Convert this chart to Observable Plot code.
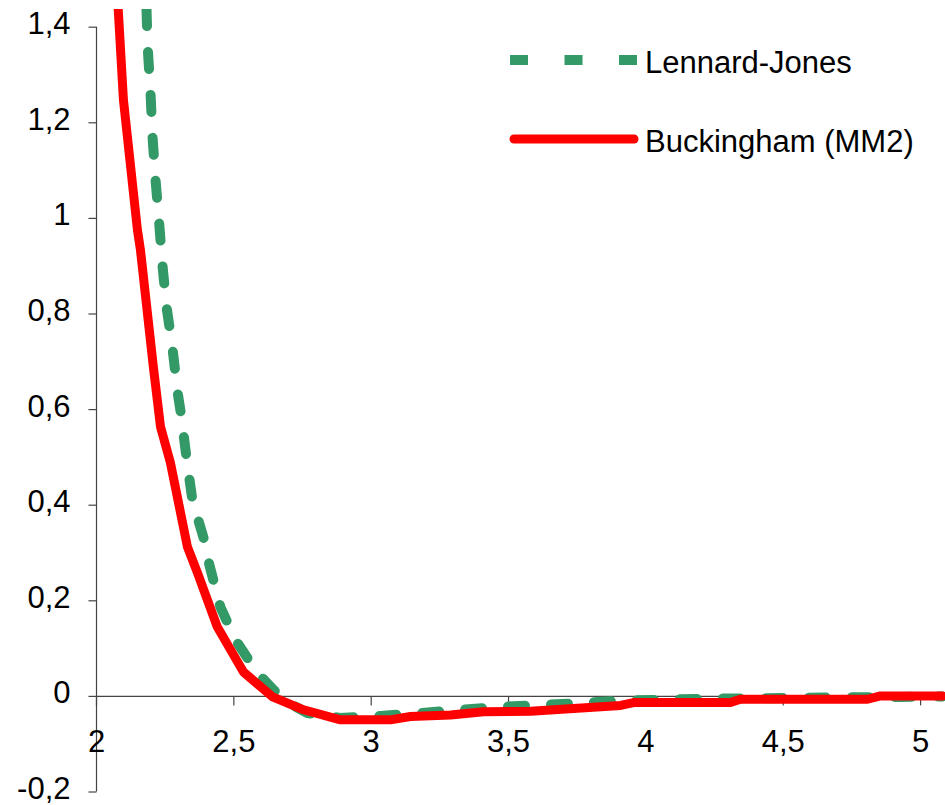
<!DOCTYPE html>
<html><head><meta charset="utf-8">
<script src="https://cdn.jsdelivr.net/npm/d3@7"></script>
<script src="https://cdn.jsdelivr.net/npm/@observablehq/plot@0.6"></script>
<style>
html,body{margin:0;padding:0;background:#fff;}
#wrap{position:relative;width:945px;height:805px;overflow:hidden;}
#legend{position:absolute;left:0;top:0;}
</style></head><body>
<div id="wrap"><div id="chart"></div><svg id="legend" width="945" height="200"></svg></div>
<script>
// Lennard-Jones (green dashed)
const ljX = [2.182,2.186,2.197,2.204,2.215,2.229,2.240,2.255,2.277,2.295,2.309,2.328,2.349,2.390,2.411,2.451,2.506,2.586,2.644,2.695,2.768,2.888,3.034,3.179,3.325,3.471,3.616,3.762,3.908,4.053,4.199,4.381,4.563,4.745,4.927,5.080];
const ljY = [1.438,1.362,1.258,1.170,1.080,0.984,0.903,0.815,0.727,0.637,0.585,0.497,0.411,0.331,0.275,0.187,0.118,0.049,0.014,-0.012,-0.035,-0.045,-0.041,-0.035,-0.028,-0.022,-0.018,-0.014,-0.009,-0.007,-0.005,-0.004,-0.003,-0.002,-0.001,0.000];
// Buckingham (MM2) (red solid)
const bkX = [2.079,2.098,2.149,2.160,2.207,2.233,2.269,2.331,2.368,2.440,2.535,2.641,2.754,2.888,3.070,3.143,3.289,3.409,3.580,3.908,3.955,4.308,4.344,4.807,4.854,5.080];
const bkY = [1.438,1.248,0.976,0.934,0.689,0.564,0.489,0.313,0.258,0.145,0.051,-0.001,-0.028,-0.049,-0.049,-0.042,-0.039,-0.032,-0.031,-0.019,-0.013,-0.013,-0.006,-0.006,0.001,0.001];

const seriesNames = ["Lennard-Jones", "Buckingham (MM2)"];
const seriesColors = ["#339966", "#ff0000"];

const xTicks = [2, 2.5, 3, 3.5, 4, 4.5, 5];
const xTickLabels = ["2", "2,5", "3", "3,5", "4", "4,5", "5"];
const yTicks = [-0.2, 0, 0.2, 0.4, 0.6, 0.8, 1, 1.2, 1.4];
const yTickLabels = ["-0,2", "0", "0,2", "0,4", "0,6", "0,8", "1", "1,2", "1,4"];

const lj = ljX.map((x, i) => ({x, y: ljY[i]}));
const bk = bkX.map((x, i) => ({x, y: bkY[i]}));
const xt = xTicks.map((v, i) => ({v, label: xTickLabels[i]}));
const yt = yTicks.map((v, i) => ({v, label: yTickLabels[i]}));

const font = "Liberation Sans, Arial, Helvetica, sans-serif";
const axisColor = "#444";
const tickDown = {draw(ctx) { ctx.moveTo(0, 0); ctx.lineTo(0, 9); }};
const tickLeft = {draw(ctx) { ctx.moveTo(0, 0); ctx.lineTo(-8, 0); }};

const chart = Plot.plot({
  width: 945,
  height: 805,
  marginLeft: 96,
  marginRight: 0,
  marginTop: 9,
  marginBottom: 13.5,
  style: {fontFamily: font, background: "#fff"},
  x: {domain: [2, 5.0907], axis: null},
  y: {domain: [-0.2, 1.437], axis: null},
  marks: [
    Plot.ruleY([0], {stroke: axisColor, strokeWidth: 1.2}),
    Plot.ruleX([2], {y1: yTicks[0], y2: yTicks[yTicks.length - 1], stroke: axisColor, strokeWidth: 1.2}),
    Plot.dot(xt, {x: "v", y: 0, symbol: tickDown, fill: "none", stroke: axisColor, strokeWidth: 1.2}),
    Plot.dot(yt, {x: 2, y: "v", symbol: tickLeft, fill: "none", stroke: axisColor, strokeWidth: 1.2}),
    Plot.text(xt, {x: "v", y: 0, text: "label", dy: 46, fontSize: 31, fill: "#000", textAnchor: "middle"}),
    Plot.text(yt, {x: 2, y: "v", text: "label", dx: -26, dy: -3, fontSize: 31, fill: "#000", textAnchor: "end"}),
    Plot.line(lj, {x: "x", y: "y", stroke: seriesColors[0], strokeWidth: 10, strokeDasharray: "17,26", strokeLinejoin: "miter", clip: true}),
    Plot.line(bk, {x: "x", y: "y", stroke: seriesColors[1], strokeWidth: 9, strokeLinejoin: "round", strokeLinecap: "round", clip: true})
  ]
});
document.getElementById("chart").appendChild(chart);

// legend overlay
const leg = d3.select("#legend");
const rows = [
  {name: seriesNames[0], color: seriesColors[0], dash: "18,36.5", width: 10, cap: "butt", y: 60},
  {name: seriesNames[1], color: seriesColors[1], dash: null, width: 9, cap: "round", y: 139}
];
const g = leg.selectAll("g").data(rows).join("g");
g.append("line")
  .attr("x1", d => d.cap === "round" ? 514 : 510).attr("x2", d => d.cap === "round" ? 634 : 637.5)
  .attr("y1", d => d.y).attr("y2", d => d.y)
  .attr("stroke", d => d.color).attr("stroke-width", d => d.width)
  .attr("stroke-linecap", d => d.cap)
  .attr("stroke-dasharray", d => d.dash);
g.append("text")
  .attr("x", 645).attr("y", d => d.y + 2)
  .attr("dy", "0.35em")
  .attr("font-family", font).attr("font-size", 31).attr("fill", "#000")
  .text(d => d.name);
</script>
</body></html>
